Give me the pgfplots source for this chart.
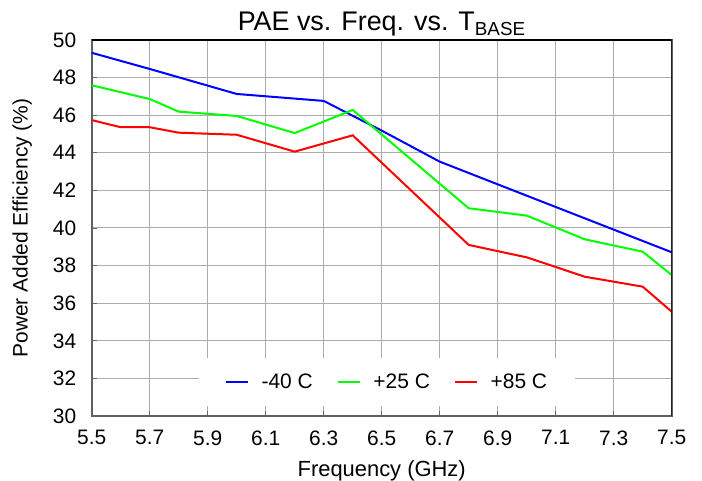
\documentclass[border=0pt]{standalone}
\usepackage{pgfplots}
\pgfplotsset{compat=1.18}
\usepackage{fontspec}
\setmainfont{Liberation Sans}
\begin{document}
\begin{tikzpicture}
\path[use as bounding box] (-91.7bp,-65bp) rectangle (610.3bp,416bp);
\begin{axis}[
  at={(0,0)}, anchor=south west,
  scale only axis, width=580bp, height=376bp,
  xmin=5.5, xmax=7.5, ymin=30, ymax=50,
  xtick={5.5,5.7,...,7.51}, ytick={30,32,...,50},
  xticklabels={5.5,5.7,5.9,6.1,6.3,6.5,6.7,6.9,7.1,7.3,7.5},
  /pgf/number format/assume math mode=true,
  /pgf/number format/fixed,
  tick style={draw=gray!80!black, line width=0.8bp},
  major tick length=5bp,
  tick align=inside,
  xtick pos=bottom, ytick pos=left,
  grid=major,
  major grid style={draw=gray!65, line width=1bp},
  axis line style={draw=gray!75!black, line width=1.8bp},
  tick label style={font=\fontsize{21}{24}\selectfont},
  yticklabel style={xshift=-12bp},
  xticklabel style={yshift=-11bp},
  xlabel style={font=\fontsize{22}{25}\selectfont, yshift=-8bp},
  ylabel style={font=\fontsize{21}{24}\selectfont, yshift=14bp},
  xlabel={Frequency (GHz)},
  ylabel={Power Added Efficiency (\%)},
  title={PAE vs. Freq. vs. T\textsubscript{BASE}},
  title style={font=\fontsize{27}{30}\selectfont, yshift=-6bp},
  legend columns=3,
  legend style={at={(axis cs:6.518,31.81)}, anchor=center, draw=none, fill=white,
    font=\fontsize{21}{24}\selectfont, inner xsep=26bp, inner ysep=14bp,
    /tikz/every odd column/.append style={column sep=11bp},
    /tikz/every even column/.append style={column sep=22bp}},
  legend image code/.code={\draw[#1, line width=1.8bp] (0bp,0bp) -- (22bp,0bp);},
]
\addplot[blue, line width=2bp] coordinates {
(5.5,49.32) (5.7,48.46) (6.0,47.13) (6.3,46.76) (6.4,45.97) (6.5,45.18) (6.7,43.53) (7.0,41.72) (7.5,38.71)};
\addlegendentry{-40 C}
\addplot[green, line width=2bp] coordinates {
(5.5,47.59) (5.7,46.86) (5.8,46.19) (6.0,45.96) (6.2,45.05) (6.4,46.28) (6.8,41.05) (7.0,40.66) (7.2,39.40) (7.4,38.74) (7.5,37.50)};
\addlegendentry{+25 C}
\addplot[red, line width=2bp] coordinates {
(5.5,45.74) (5.6,45.36) (5.7,45.36) (5.8,45.07) (6.0,44.96) (6.2,44.06) (6.4,44.93) (6.8,39.10) (7.0,38.44) (7.2,37.41) (7.4,36.88) (7.5,35.55)};
\addlegendentry{+85 C}
\draw[black, line width=1.8bp] (rel axis cs:0,1) -- (rel axis cs:1,1) -- (rel axis cs:1,0);
\end{axis}
\end{tikzpicture}
\end{document}
